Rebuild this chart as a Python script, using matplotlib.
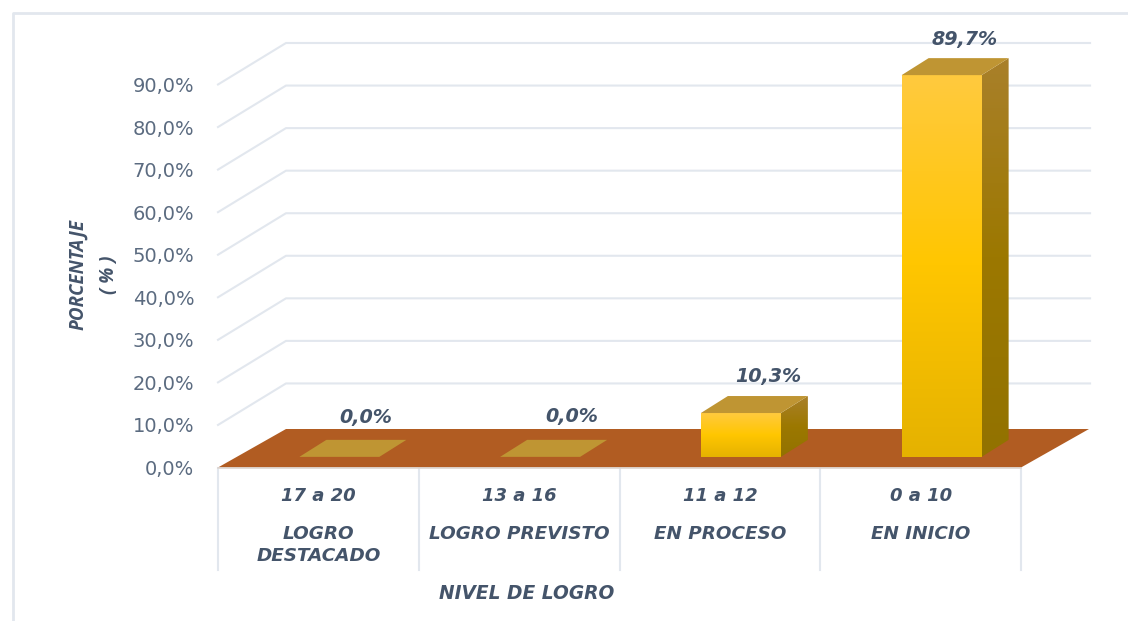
import numpy as np
import matplotlib
matplotlib.use('Agg')
import matplotlib.pyplot as plt
from matplotlib.lines import Line2D
from matplotlib.patches import Polygon
from matplotlib.colors import LinearSegmentedColormap

# Datos
rangos = ['17 a 20', '13 a 16', '11 a 12', '0 a 10']
niveles = ['LOGRO\nDESTACADO', 'LOGRO PREVISTO', 'EN PROCESO', 'EN INICIO']
valores = [0.0, 0.0, 10.3, 89.7]
etiquetas = ['0,0%', '0,0%', '10,3%', '89,7%']
ticks = [0, 10, 20, 30, 40, 50, 60, 70, 80, 90]
ticks_txt = ['0,0%', '10,0%', '20,0%', '30,0%', '40,0%', '50,0%', '60,0%', '70,0%', '80,0%', '90,0%']

W, H = 1128, 621
gris = '#E2E7EE'
azul = '#44546A'
fuente = 'DejaVu Sans'

fig = plt.figure(figsize=(W / 100, H / 100), dpi=100)
# el plano frontal del grafico ocupa estos pixeles
x0, x1, y0, y1 = 218, 1021, 467.5, 84.5
ax = fig.add_axes([x0 / W, 1 - y0 / H, (x1 - x0) / W, (y0 - y1) / H])
sx = (x1 - x0) / 4   # pixeles por categoria
sy = (y0 - y1) / 90  # pixeles por punto porcentual

# profundidad del piso y de las barras, en unidades de datos
prof_x, prof_y = 68 / sx, 41.5 / sy
barra_x, barra_y = 27 / sx, 17 / sy
ancho = 80 / sx
base = 2.5
corrimiento = 21 / sx
# pixeles, posicion de cada etiqueta
ajuste_x = [0, 6, 1, -3]
ajuste_y = [6, 7, 3, 2]

# marco de la imagen
fig.add_artist(Line2D([13 / W, 13 / W, 1], [0, 1 - 13 / H, 1 - 13 / H], color=gris, lw=2))

# rejilla del fondo
for t in ticks[1:]:
    ax.plot([0, prof_x, 4.344], [t, t + prof_y, t + prof_y], color=gris, lw=1.5, clip_on=False, zorder=1)

# lineas de las categorias
for i in range(5):
    ax.plot([i, i], [0, -24], color=gris, lw=1.5, clip_on=False, zorder=1)

# piso
piso = Polygon([[0, 0], [prof_x, 38.5 / sy], [4 + prof_x, 38.5 / sy], [4, 0]],
               facecolor='#B15C22', edgecolor='none', clip_on=False, zorder=2)
ax.add_patch(piso)
ax.plot([0, 4], [0, 0], color='#DDD5D0', lw=1.2, clip_on=False, zorder=2)

frente = LinearSegmentedColormap.from_list('frente', ['#E5B200', '#FFC600', '#FFCA3E'])
lado = LinearSegmentedColormap.from_list('lado', ['#927200', '#9C7800', '#A9802A'])


def degradado(poligono, cmap, ymin, ymax, xmin, xmax, z):
    grad = np.linspace(1, 0, 128).reshape(-1, 1)
    im = ax.imshow(grad, cmap=cmap, vmin=0, vmax=1, aspect='auto', zorder=z,
                   extent=[xmin, xmax, ymin, ymax])
    p = Polygon(poligono, transform=ax.transData, facecolor='none', edgecolor='none')
    ax.add_patch(p)
    im.set_clip_box(fig.bbox)  # la barra alta pasa del limite de los ejes
    im.set_clip_path(p)


for i, v in enumerate(valores):
    izq = i + 0.5 + corrimiento - ancho / 2
    der = izq + ancho
    techo = base + v
    if v > 0:
        degradado([[der, base], [der + barra_x, base + barra_y], [der + barra_x, techo + barra_y], [der, techo]],
                  lado, base, techo + barra_y, der, der + barra_x, 4)
        degradado([[izq, base], [der, base], [der, techo], [izq, techo]],
                  frente, base, techo, izq, der, 5)
    ax.add_patch(Polygon([[izq, techo], [der, techo], [der + barra_x, techo + barra_y], [izq + barra_x, techo + barra_y]],
                         facecolor='#BF9533', edgecolor='none', clip_on=False, zorder=5))
    ax.text(i + 0.5 + corrimiento + (26 + ajuste_x[i]) / sx, techo + barra_y + 1.7 + ajuste_y[i] / sy, etiquetas[i],
            ha='center', va='bottom', color=azul, fontsize=13.8, fontstyle='italic', fontweight='bold',
            family=fuente, clip_on=False)

ax.set_xlim(0, 4)
ax.set_ylim(0, 90)
ax.patch.set_alpha(0)
for s in ax.spines.values():
    s.set_visible(False)

ax.set_yticks(ticks)
ax.set_yticklabels(ticks_txt, color='#5B6B80', fontsize=14, family='DejaVu Sans')
ax.set_xticks([0.5, 1.5, 2.5, 3.5])
ax.set_xticklabels(rangos, color=azul, fontsize=13, fontstyle='italic', fontweight='bold', family=fuente)
ax.tick_params(axis='y', length=0, pad=17)
ax.tick_params(axis='x', length=0, pad=14)

for i, n in enumerate(niveles):
    ax.text(i + 0.5, -13.4, n, ha='center', va='top', color=azul, fontsize=13.2, fontstyle='italic',
            fontweight='bold', family=fuente, linespacing=1.3, clip_on=False)

ax.set_xlabel('NIVEL DE LOGRO', color=azul, fontsize=13.4, fontstyle='italic', fontweight='bold', family=fuente)
ax.xaxis.set_label_coords((527 - x0) / (x1 - x0), -(584 - y0) / (y0 - y1))
ax.set_ylabel('PORCENTAJE\n( % )', color=azul, fontsize=13.5, fontstyle='italic', fontweight='bold',
              family='Open Sans', linespacing=1.75)
ax.yaxis.set_label_coords((119 - x0) / (x1 - x0), (y0 - 275) / (y0 - y1))

fig.savefig('out.png', dpi=100)
